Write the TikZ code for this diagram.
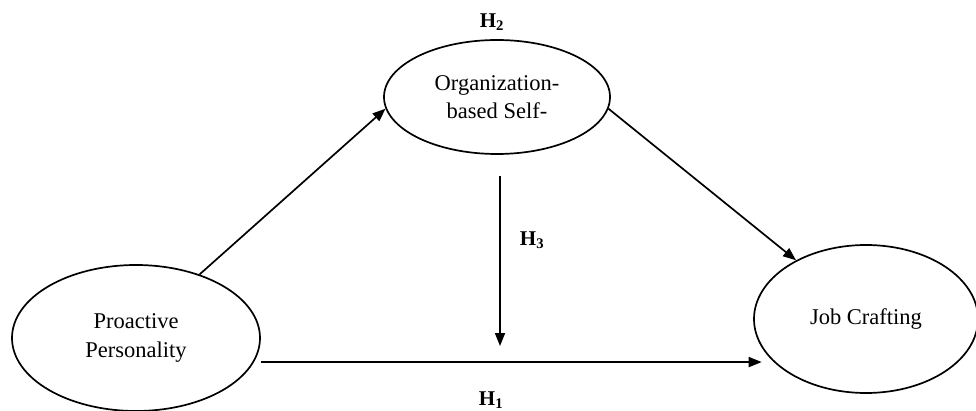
\documentclass[tikz,border=0pt]{standalone}
\usepackage{fontspec}
\setmainfont{Liberation Serif}
\usetikzlibrary{arrows.meta,shapes.geometric}
\tikzset{
  construct/.style={draw, ellipse, line width=1.7pt, inner sep=0pt, align=center,
    font=\fontsize{22.5}{28.5}\selectfont},
  arr/.style={line width=1.7pt, -{Triangle[length=13pt,width=10pt]}},
  hyp/.style={font=\fontsize{21}{24}\selectfont\bfseries, inner sep=0pt}
}
\begin{document}
\begin{tikzpicture}[x=1pt,y=1pt]
\useasboundingbox (0,0) rectangle (976,410);

% constructs
\node[construct, minimum width=226pt, minimum height=114pt] (os) at (497,313)
  {Organization-\\based Self-};
\node[construct, minimum width=248pt, minimum height=146pt] (pp) at (136,72)
  {Proactive\\Personality};
\node[construct, minimum width=224pt, minimum height=148pt] (jc) at (866,91)
  {Job Crafting};

% hypothesis labels
\node[hyp] (h2) at (492,388) {H\textsubscript{2}};
\node[hyp] (h3) at (532,170) {H\textsubscript{3}};
\node[hyp] (h1) at (491,10) {H\textsubscript{1}};

% paths
\draw[arr] (pp.45) -- (os.186);
\draw[arr] (os.-6) -- (jc.140);
\draw[arr, shorten >=12pt] (pp.east |- jc.205) -- (jc.205);
\draw[arr, shorten <=21pt, shorten >=16pt] ([xshift=3pt]os.south) -- ([xshift=3pt]os.south |- jc.205);
\end{tikzpicture}
\end{document}
